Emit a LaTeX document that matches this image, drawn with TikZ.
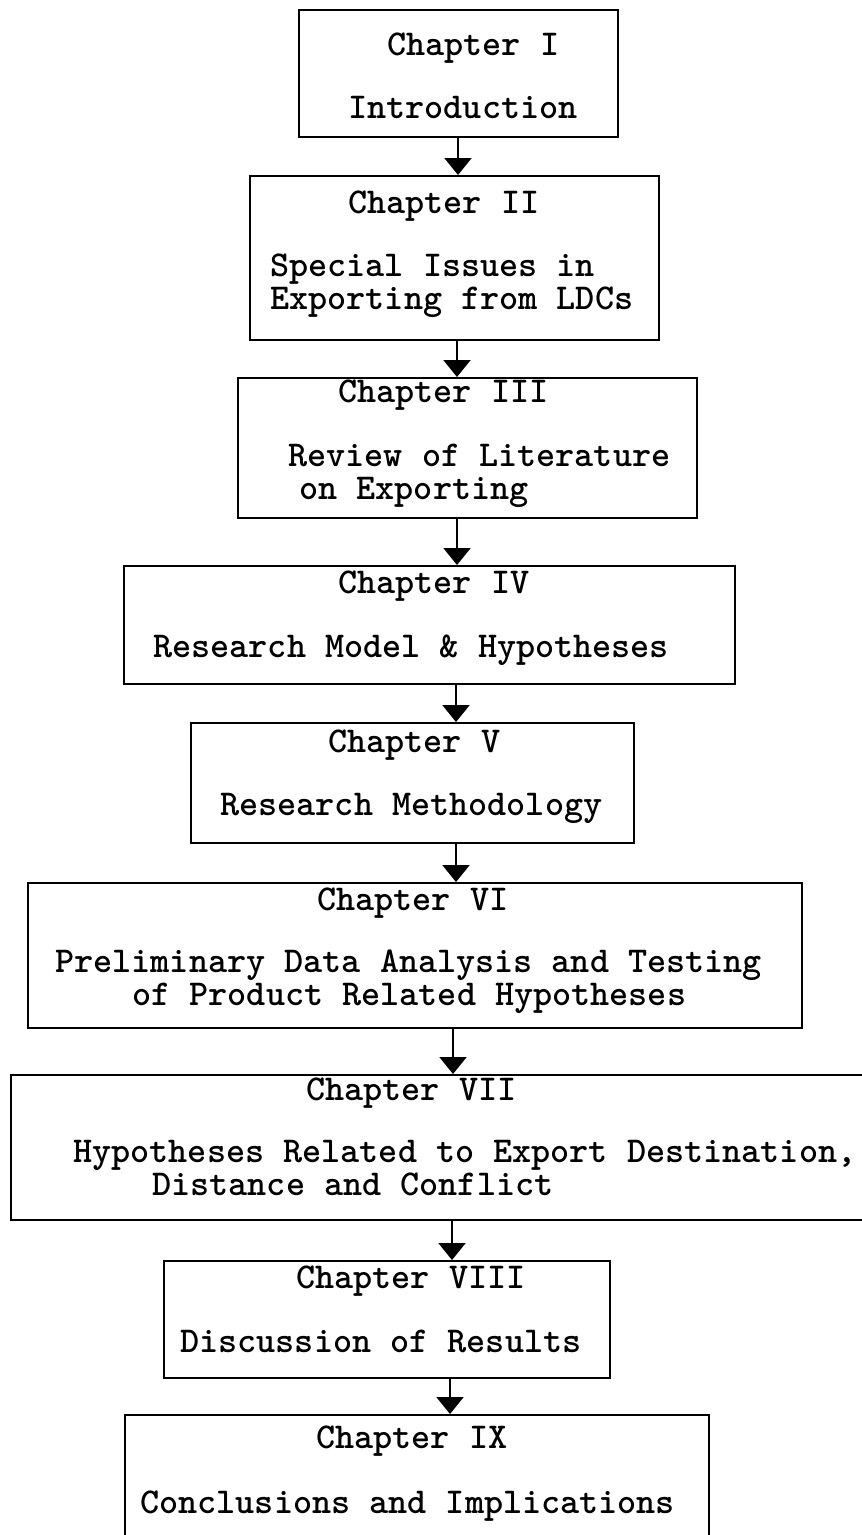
\documentclass[tikz,border=0pt]{standalone}
\usepackage{fontspec}
\usepackage{tikz}
\usetikzlibrary{arrows.meta}

\begin{document}
\begin{tikzpicture}[
  box/.style={draw, line width=1.1pt, inner sep=0pt},
  txt/.style={anchor=base west, inner sep=0pt, font={\fontsize{20.7}{25}\selectfont\ttfamily\bfseries}},
  flow/.style={line width=1.1pt, -{Triangle[width=0.54cm,length=0.34cm]}},
]
\path[use as bounding box, fill=white] (0,0) rectangle (17.22,-30.7);

% chapter boxes
\node[box, minimum width=6.38cm, minimum height=2.54cm] (intro) at (9.17,-1.47) {};
\node[box, minimum width=8.18cm, minimum height=3.28cm] (issues) at (9.09,-5.16) {};
\node[box, minimum width=9.18cm, minimum height=2.80cm] (review) at (9.35,-8.96) {};
\node[box, minimum width=12.22cm, minimum height=2.36cm] (model) at (8.59,-12.50) {};
\node[box, minimum width=8.86cm, minimum height=2.40cm] (method) at (8.25,-15.66) {};
\node[box, minimum width=15.48cm, minimum height=2.90cm] (prelim) at (8.30,-19.11) {};
\node[box, minimum width=17.10cm, minimum height=2.90cm] (destin) at (8.77,-22.95) {};
\node[box, minimum width=8.92cm, minimum height=2.34cm] (discuss) at (7.74,-26.39) {};
\node[box, minimum width=11.68cm, minimum height=2.60cm] (concl) at (8.34,-29.60) {};

% texts
\node[txt] (intro-t) at (7.74,-1.10) {Chapter I};
\node[txt] (intro-b) at (6.96,-2.36) {Introduction};
\node[txt] (issues-t) at (6.96,-4.26) {Chapter II};
\node[txt] (issues-b) at (5.40,-5.52) {Special Issues in};
\node[txt] (issues-c) at (5.40,-6.18) {Exporting from LDCs};
\node[txt] (review-t) at (6.76,-8.04) {Chapter III};
\node[txt] (review-b) at (5.76,-9.32) {Review of Literature};
\node[txt] (review-c) at (5.98,-9.99) {on Exporting};
\node[txt] (model-t) at (6.76,-11.86) {Chapter IV};
\node[txt] (model-b) at (3.06,-13.14) {Research Model \& Hypotheses};
\node[txt] (method-t) at (6.56,-15.04) {Chapter V};
\node[txt] (method-b) at (4.40,-16.30) {Research Methodology};
\node[txt] (prelim-t) at (6.34,-18.20) {Chapter VI};
\node[txt] (prelim-b) at (1.10,-19.44) {Preliminary Data Analysis and Testing};
\node[txt] (prelim-c) at (2.64,-20.10) {of Product Related Hypotheses};
\node[txt] (destin-t) at (6.12,-22.00) {Chapter VII};
\node[txt] (destin-b) at (1.46,-23.24) {Hypotheses Related to Export Destination,};
\node[txt] (destin-c) at (3.04,-23.91) {Distance and Conflict};
\node[txt] (discuss-t) at (5.92,-25.76) {Chapter VIII};
\node[txt] (discuss-b) at (3.60,-27.04) {Discussion of Results};
\node[txt] (concl-t) at (6.32,-28.96) {Chapter IX};
\node[txt] (concl-b) at (2.80,-30.26) {Conclusions and Implications};

% arrows
\foreach \a/\b/\x in {intro/issues/9.16, issues/review/9.14, review/model/9.14, model/method/9.12,
                      method/prelim/9.12, prelim/destin/9.06, destin/discuss/9.04, discuss/concl/9.00} {
  \coordinate (ax) at (\x,0);
  \draw[flow] (\a.south -| ax) -- (\b.north -| ax);
}
\end{tikzpicture}
\end{document}
